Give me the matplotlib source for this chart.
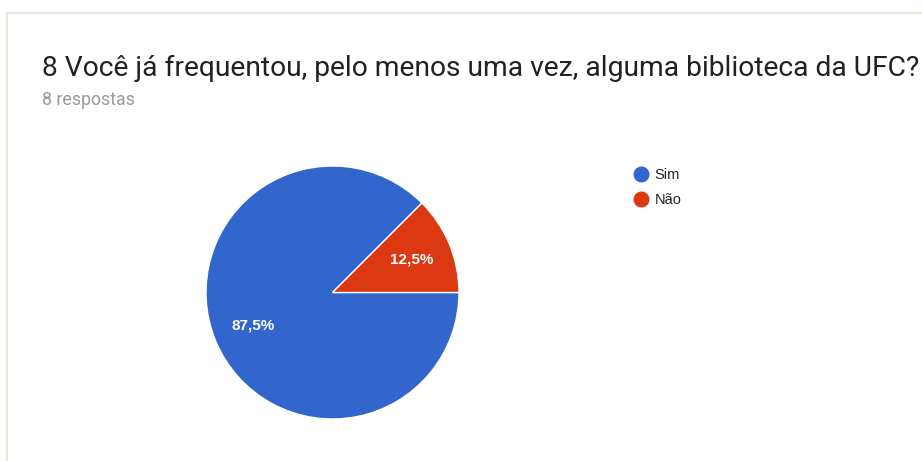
import matplotlib.pyplot as plt
from matplotlib.lines import Line2D
from matplotlib.patches import Rectangle

# Survey answers
categories = ['Sim', 'Não']
counts = [7, 1]
colors = ['#3366cc', '#dc3912']
title = '8 Você já frequentou, pelo menos uma vez, alguma biblioteca da UFC?'
subtitle = '8 respostas'

W, H = 922, 461
fig = plt.figure(figsize=(W / 100, H / 100), dpi=100)
fig.patch.set_facecolor('white')

# card outline
fig.patches.append(Rectangle((7 / W, -0.1), 1.1, (H - 13) / H + 0.1,
                             transform=fig.transFigure, fill=False,
                             edgecolor='#ebe8de', linewidth=1.6))

fig.text(42 / W, 1 - 68 / H, title, fontsize=20.3, color='#212121',
         family='Roboto', va='center', ha='left')
fig.text(42 / W, 1 - 100 / H, subtitle, fontsize=12.8, color='#9a9a9a',
         family='Roboto', va='center', ha='left')

# pie
cx, cy, r = 332.5, 292.5, 126.5
ax = fig.add_axes([(cx - r) / W, (H - cy - r) / H, 2 * r / W, 2 * r / H])
wedges, texts, autotexts = ax.pie(
    counts, colors=colors, startangle=45, counterclock=True,
    autopct=lambda p: f'{p:.1f}%'.replace('.', ','), pctdistance=0.68,
    wedgeprops=dict(edgecolor='white', linewidth=1),
    textprops=dict(color='white', fontsize=11, fontweight='bold',
                   family='Liberation Sans'))
ax.set_xlim(-1, 1)
ax.set_ylim(-1, 1)
ax.set_aspect('equal')
ax.axis('off')

# legend
handles = [Line2D([], [], marker='o', linestyle='none', markersize=10.5,
                  markerfacecolor=c, markeredgecolor=c) for c in colors]
leg = fig.legend(handles, categories, loc='upper left',
                 bbox_to_anchor=(621 / W, 1 - 155 / H), frameon=False,
                 handlelength=1.0, handletextpad=0.4, labelspacing=0.75,
                 prop=dict(family='Liberation Sans', size=10.5))
for t in leg.get_texts():
    t.set_color('#222222')

fig.savefig('out.png', dpi=100)
